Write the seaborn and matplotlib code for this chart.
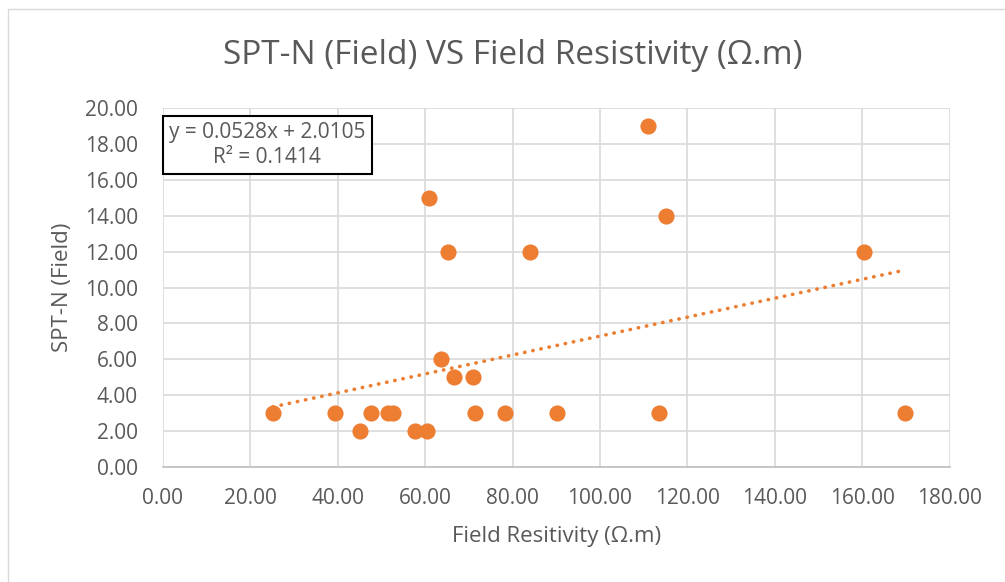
import matplotlib
matplotlib.use("Agg")
import matplotlib.pyplot as plt
import numpy as np
import pandas as pd
import seaborn as sns

# Field resistivity (ohm.m) and SPT-N (field) values
resistivity = [25.2, 39.3, 45.1, 47.6, 51.5, 52.6, 57.6, 60.4, 60.8, 63.6, 65.2,
               66.6, 70.9, 71.4, 78.2, 83.9, 90.1, 110.9, 113.4, 115.0, 160.3, 169.7]
spt_n = [3, 3, 2, 3, 3, 3, 2, 2, 15, 6, 12,
         5, 5, 3, 3, 12, 3, 19, 3, 14, 12, 3]

# trendline as given in the chart
slope = 0.0528
intercept = 2.0105
r2 = 0.1414

df = pd.DataFrame({"res": resistivity, "spt": spt_n})

sns.set_theme(style="white")
plt.rcParams['font.family'] = ['Open Sans', 'DejaVu Sans']
grey = "#595959"
orange = "#ED7D31"

fig = plt.figure(figsize=(10.05, 5.82), dpi=100)
ax = fig.add_axes([0.162, 0.198, 0.783, 0.616])

sns.scatterplot(data=df, x="res", y="spt", ax=ax, color=orange, s=135,
                edgecolor=orange, linewidth=0, zorder=3)

xs = np.array([min(resistivity), max(resistivity)])
ax.plot(xs, slope * xs + intercept, color=orange, linewidth=2.6,
        linestyle=(0, (0.1, 2.2)), dash_capstyle="round", zorder=2)

ax.set_xlim(0, 180)
ax.set_ylim(0, 20)
ax.set_xticks(np.arange(0, 181, 20))
ax.set_yticks(np.arange(0, 21, 2))
ax.xaxis.set_major_formatter(matplotlib.ticker.FormatStrFormatter("%.2f"))
ax.yaxis.set_major_formatter(matplotlib.ticker.FormatStrFormatter("%.2f"))
ax.tick_params(labelsize=15, colors=grey, length=0)
ax.tick_params(axis="x", pad=15)
ax.tick_params(axis="y", pad=18)
ax.grid(True, color="#D9D9D9", linewidth=1.2)
ax.set_axisbelow(True)
for s in ["top", "right", "left"]:
    ax.spines[s].set_visible(False)
ax.spines["bottom"].set_color("#BFBFBF")
ax.spines["bottom"].set_linewidth(1.2)

ax.set_xlabel("Field Resitivity (Ω.m)", fontsize=16, color=grey, va="center")
ax.set_ylabel("SPT-N (Field)", fontsize=16, color=grey, va="center")
ax.xaxis.set_label_coords(0.5, -0.195)
ax.yaxis.set_label_coords(-0.128, 0.5)
fig.suptitle("SPT-N (Field) VS Field Resistivity (Ω.m)", fontsize=24, color=grey,
             x=0.51, y=0.905, va="center")

fig.text(0.266, 0.751, f"y = {slope}x + {intercept}\nR² = {r2}", fontsize=15,
         color=grey, ha="center", va="center", linespacing=1.25,
         bbox=dict(boxstyle="square,pad=0.3", facecolor="white",
                   edgecolor="black", linewidth=1.5))

# chart border
fig.patches.append(matplotlib.patches.Rectangle((0.008, -0.01), 1.0, 0.995,
                   transform=fig.transFigure, fill=False, edgecolor="#D9D9D9",
                   linewidth=1))

fig.savefig("out.png", dpi=100)
